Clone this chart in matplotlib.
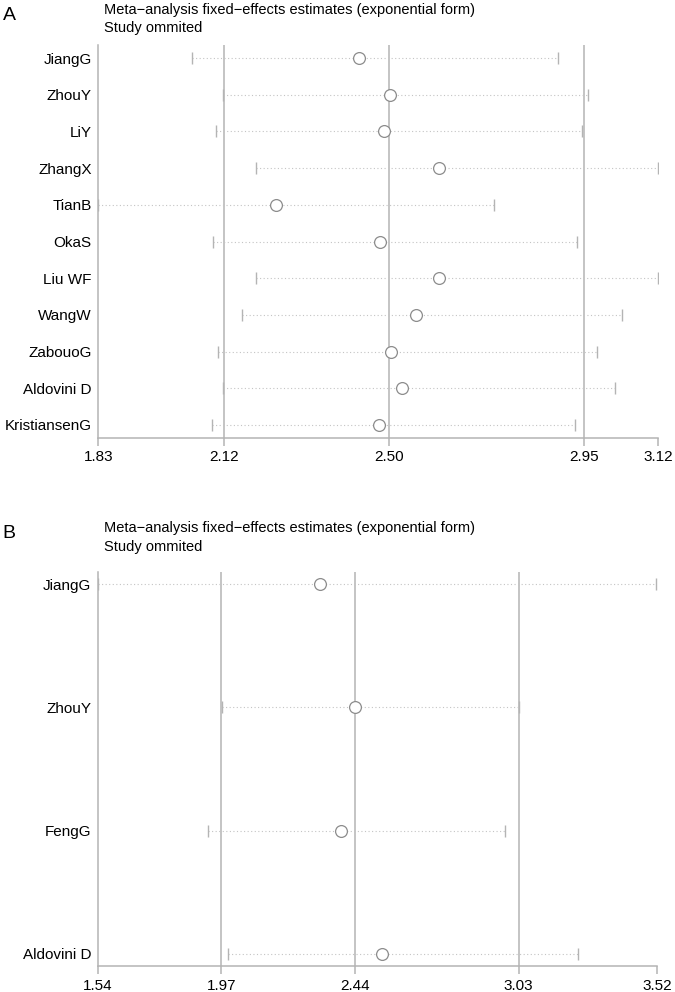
import matplotlib
matplotlib.use("Agg")
import matplotlib.pyplot as plt

# ===== data =====
# panel A
A_STUDIES = ["JiangG", "ZhouY", "LiY", "ZhangX", "TianB", "OkaS",
             "Liu WF", "WangW", "ZabouoG", "Aldovini D", "KristiansenG"]
A_EST   = [2.431, 2.503, 2.488, 2.616, 2.240, 2.478, 2.616, 2.562, 2.505, 2.529, 2.476]
A_LOW   = [2.045, 2.118, 2.102, 2.194, 1.830, 2.094, 2.194, 2.161, 2.105, 2.118, 2.092]
A_HIGH  = [2.889, 2.958, 2.945, 3.120, 2.742, 2.934, 3.120, 3.038, 2.980, 3.021, 2.928]
A_TICKS = [1.83, 2.12, 2.50, 2.95, 3.12]
A_TICKLABELS = ["1.83", "2.12", "2.50", "2.95", "3.12"]
A_REF   = [2.12, 2.50, 2.95]   # combined estimate and its CI

# panel B
B_STUDIES = ["JiangG", "ZhouY", "FengG", "Aldovini D"]
B_EST   = [2.326, 2.450, 2.399, 2.545]
B_LOW   = [1.540, 1.980, 1.931, 2.002]
B_HIGH  = [3.515, 3.032, 2.982, 3.240]
B_TICKS = [1.54, 1.977, 2.449, 3.030, 3.52]
B_TICKLABELS = ["1.54", "1.97", "2.44", "3.03", "3.52"]
B_REF   = [1.977, 2.449, 3.030]

TITLE1 = "Meta\u2212analysis fixed\u2212effects estimates (exponential form)"
TITLE2 = "Study ommited"

FONT = ["Liberation Sans", "DejaVu Sans"]
plt.rcParams["font.family"] = FONT

AXIS_C = "#b4b4b4"
DOT_C  = "#c4c4c4"
CIRC_C = "#8c8c8c"


def panel(fig, rect, studies, est, low, high, ticks, ticklabels, refs, pad):
    ax = fig.add_axes(rect)
    n = len(studies)
    y = list(range(n))
    for yi, lo, hi in zip(y, low, high):
        ax.plot([lo, hi], [yi, yi], ls=(0, (1, 2.2)), lw=0.8, color=DOT_C, zorder=1)
    ax.plot(low, y, ls="none", marker="|", ms=8, mew=1.0, color=AXIS_C, zorder=2)
    ax.plot(high, y, ls="none", marker="|", ms=8, mew=1.0, color=AXIS_C, zorder=2)
    for r in refs:
        ax.axvline(r, color=AXIS_C, lw=1.1, zorder=0)
    ax.plot(est, y, ls="none", marker="o", ms=8.5, mfc="white", mec=CIRC_C, mew=0.9, zorder=3)

    ax.set_xlim(ticks[0], ticks[-1])
    ax.set_ylim(n - 1 + pad, -pad)
    ax.set_xticks(ticks)
    ax.set_xticklabels(ticklabels, fontsize=11)
    ax.set_yticks(y)
    ax.set_yticklabels(studies, fontsize=11)
    ax.tick_params(axis="y", length=0, pad=5)
    ax.tick_params(axis="x", length=6, width=1.1, color=AXIS_C, pad=3)
    for s in ("top", "right"):
        ax.spines[s].set_visible(False)
    for s in ("left", "bottom"):
        ax.spines[s].set_color(AXIS_C)
        ax.spines[s].set_linewidth(1.1)
    return ax


fig = plt.figure(figsize=(6.75, 9.92), dpi=100)

panel(fig, [0.1459, 0.5585, 0.8289, 0.3961], A_STUDIES, A_EST, A_LOW, A_HIGH,
      A_TICKS, A_TICKLABELS, A_REF, 0.355)
panel(fig, [0.1452, 0.0262, 0.8281, 0.3972], B_STUDIES, B_EST, B_LOW, B_HIGH,
      B_TICKS, B_TICKLABELS, B_REF, 0.1)

for letter, ytop in (("A", 0.997), ("B", 0.4745)):
    fig.text(0.004, ytop - 0.004, letter, fontsize=14, va="top", ha="left")
    fig.text(0.154, ytop, TITLE1, fontsize=10.5, va="top", ha="left")
    fig.text(0.154, ytop - 0.0185, TITLE2, fontsize=10.5, va="top", ha="left")

fig.savefig("out.png", dpi=100)
